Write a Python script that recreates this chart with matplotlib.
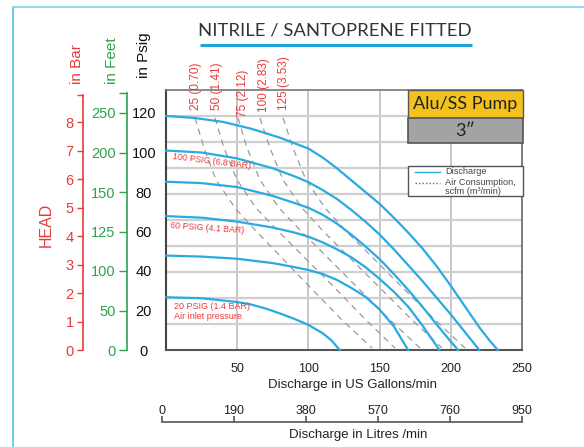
import matplotlib
matplotlib.use('Agg')
import matplotlib.pyplot as plt
from matplotlib.patches import Rectangle

plt.rcParams['font.family'] = ['Liberation Sans', 'DejaVu Sans']

# ---------------- data ----------------
# Discharge curves (US gpm vs head in psig) for each air inlet pressure
gpm_120 = [0, 20, 40, 60, 80, 100, 110, 120, 130, 140, 150, 160, 170, 180, 190, 200, 210, 220, 227, 233]
psi_120 = [118.5, 117.5, 115.5, 112, 107.5, 102, 97.5, 92, 86, 80, 74, 67, 59.5, 51.5, 42.5, 32.5, 22, 11.5, 5, 0]

gpm_100 = [0, 25, 50, 75, 90, 100, 110, 120, 130, 140, 150, 160, 170, 180, 190, 200, 210, 220]
psi_100 = [101, 100, 97, 92, 88, 85, 81, 76.5, 71, 65, 58.5, 51, 43, 35, 26.5, 18, 9, 0]

gpm_80 = [0, 25, 50, 75, 90, 100, 110, 120, 130, 140, 150, 160, 170, 180, 190, 198, 205]
psi_80 = [85.2, 84.5, 82.5, 78, 74.5, 72, 68.5, 64, 58.5, 52.5, 46, 38.5, 30.5, 22, 13, 6, 0]

gpm_60 = [0, 25, 50, 75, 90, 100, 110, 120, 130, 140, 150, 160, 170, 180, 192]
psi_60 = [67.8, 67, 65, 62, 59.5, 57.4, 54.5, 51, 47, 42, 36, 29.5, 22, 12.5, 0]

gpm_40 = [0, 25, 50, 75, 90, 100, 110, 120, 130, 140, 150, 160, 170]
psi_40 = [47.8, 47.3, 46.2, 44, 42, 40.5, 38.5, 35.5, 31.5, 27, 20.5, 12, 0]

gpm_20 = [0, 25, 50, 60, 70, 80, 90, 100, 110, 116, 122]
psi_20 = [26.7, 26.2, 24.3, 23, 21, 18.5, 15.8, 12.7, 8.5, 5, 0]

curves = [(gpm_120, psi_120), (gpm_100, psi_100), (gpm_80, psi_80),
          (gpm_60, psi_60), (gpm_40, psi_40), (gpm_20, psi_20)]

# Air consumption lines (scfm), gpm vs psig
air_psi = [117.5, 102.3, 86.1, 71.9, 59.7, 47.1, 32.9, 15.2, 1.0]
air_gpm_25 = [20.4, 26.7, 35.1, 48.5, 63.9, 80.8, 99.7, 123.6, 144.7]
air_gpm_50 = [34.4, 40.7, 49.9, 63.2, 79.4, 96.9, 116.6, 140.4, 160.8]
air_gpm_75 = [50.6, 56.9, 66.0, 79.4, 95.5, 113.1, 132.7, 157.3, 178.4]
air_gpm_100 = [66.0, 73.0, 82.2, 95.5, 111.0, 128.5, 148.2, 172.8, 193.8]
air_gpm_125 = [82.2, 89.2, 98.3, 111.7, 127.1, 144.7, 164.3, 188.9, 210.0]
air_lines = [air_gpm_25, air_gpm_50, air_gpm_75, air_gpm_100, air_gpm_125]
air_labels = ['25 (0.70)', '50 (1.41)', '75 (2.12)', '100 (2.83)', '125 (3.53)']

gpm_ticks = [50, 100, 150, 200, 250]
psig_ticks = [0, 20, 40, 60, 80, 100, 120]
feet_labels = ['0', '50', '100', '125', '150', '200', '250']
bar_ticks = [0, 1, 2, 3, 4, 5, 6, 7, 8]
litre_ticks = [0, 190, 380, 570, 760, 950]

# ---------------- layout ----------------
W, H = 584, 447
fig = plt.figure(figsize=(W / 100, H / 100), dpi=100)

def rect(l, t, r, b):
    return [l / W, 1 - b / H, (r - l) / W, (b - t) / H]

RED = '#e63b3b'
GREEN = '#2ea34a'
BLUE = '#29abe2'
PSIG_TOP = 260 / 1.975

ax = fig.add_axes(rect(166, 90, 522, 350))
ax.set_xlim(0, 250)
ax.set_ylim(0, PSIG_TOP)
for v in [50, 100, 150, 200]:
    ax.axvline(v, color='#bdbdbd', lw=1.2, zorder=1)
for i in range(1, 10):
    ax.axhline(PSIG_TOP * i / 10, color='#cfcfcf', lw=1.6, zorder=1)

for g, p in curves:
    ax.plot(g, p, color=BLUE, lw=1.6, zorder=3, clip_on=False, solid_joinstyle='round')
for g in air_lines:
    ax.plot(g, air_psi, color='#9a9a9a', lw=0.9, dashes=(5, 4), zorder=2)

ax.spines['left'].set_color('#444')
ax.spines['left'].set_linewidth(1.5)
ax.spines['bottom'].set_color('#555')
ax.spines['bottom'].set_linewidth(1.5)
ax.spines['top'].set_color('#777')
ax.spines['top'].set_linewidth(1.2)
ax.spines['right'].set_color('#666')
ax.spines['right'].set_linewidth(1.2)

ax.set_xticks(gpm_ticks)
ax.set_xticklabels([str(t) for t in gpm_ticks])
ax.tick_params(axis='x', length=0, pad=9, labelsize=9, colors='#222')
ax.set_yticks(psig_ticks)
ax.set_yticklabels([str(t) for t in psig_ticks])
ax.tick_params(axis='y', length=0, pad=16, labelsize=10.5, colors='#111')
for lab in ax.get_yticklabels():
    lab.set_horizontalalignment('center')

# Bar axis
axb = fig.add_axes(rect(82.7, 95, 84, 350))
axb.set_ylim(0, 255 / 28.45)
for s in ['top', 'right', 'bottom']:
    axb.spines[s].set_visible(False)
axb.spines['left'].set_color(RED)
axb.spines['left'].set_linewidth(1.2)
axb.set_xticks([])
axb.set_yticks(bar_ticks + [255 / 28.45])
axb.set_yticklabels([str(t) for t in bar_ticks] + [''])
axb.tick_params(axis='y', colors=RED, length=4.5, width=1, labelsize=10.5, pad=2)
axb.patch.set_alpha(0)

# Feet axis
axf = fig.add_axes(rect(126.7, 93, 128, 350))
axf.set_ylim(0, 257 / 1.975)
for s in ['top', 'right', 'bottom']:
    axf.spines[s].set_visible(False)
axf.spines['left'].set_color(GREEN)
axf.spines['left'].set_linewidth(1.2)
axf.set_xticks([])
axf.set_yticks(psig_ticks + [257 / 1.975])
axf.set_yticklabels(feet_labels + [''])
axf.tick_params(axis='y', colors=GREEN, length=6, width=1, labelsize=10.5, pad=2)
axf.patch.set_alpha(0)

# Litres axis
axl = fig.add_axes(rect(162, 421, 522, 422))
axl.set_xlim(0, 950)
for s in ['top', 'right', 'left']:
    axl.spines[s].set_visible(False)
axl.spines['bottom'].set_color('#555')
axl.spines['bottom'].set_linewidth(1.2)
axl.set_yticks([])
axl.set_xticks(litre_ticks)
axl.set_xticklabels([str(t) for t in litre_ticks])
axl.tick_params(axis='x', bottom=True, top=False, labelbottom=False, labeltop=True,
                direction='in', length=4, width=1.2, pad=3, labelsize=9, colors='#555',
                labelcolor='#222')
axl.patch.set_alpha(0)

# Overlay in pixel coords
ov = fig.add_axes([0, 0, 1, 1])
ov.set_xlim(0, W)
ov.set_ylim(H, 0)
ov.axis('off')
ov.patch.set_alpha(0)

ov.plot([12.5, 12.5], [7, H], color='#55c1ea', lw=1.2)
ov.plot([12.5, W], [7, 7], color='#7fd0ef', lw=1.2)

ov.text(335, 31, 'NITRILE / SANTOPRENE FITTED', ha='center', va='center',
        fontsize=13.3, color='#333', family=['Lato', 'DejaVu Sans'])
ov.plot([200, 472], [45, 45], color='#1fa5de', lw=2.2, solid_capstyle='butt')

ov.add_patch(Rectangle((408, 90), 114.5, 28.3, facecolor='#f4c21c', edgecolor='#555', lw=1, zorder=5))
ov.text(465.5, 104.5, 'Alu/SS Pump', ha='center', va='center', fontsize=13,
        color='#222', family=['Lato', 'DejaVu Sans'], zorder=6)
ov.add_patch(Rectangle((408, 118.3), 114.5, 25, facecolor='#a3a3a3', edgecolor='#555', lw=1.2, zorder=5))
ov.text(465.5, 131, '3\u2033', ha='center', va='center', fontsize=13,
        color='#222', family=['Lato', 'DejaVu Sans'], zorder=6)

ov.add_patch(Rectangle((408, 166), 114.5, 30, facecolor='white', edgecolor='#555', lw=1, zorder=5))
ov.plot([415, 440], [172.3, 172.3], color=BLUE, lw=1, zorder=6)
ov.plot([415, 440], [182.7, 182.7], color='#666', lw=1, ls=(0, (1, 1.5)), zorder=6)
for yy, tt in [(172, 'Discharge'), (182.3, 'Air Consumption,'), (191.3, 'scfm (m\u00b3/min)')]:
    ov.text(445, yy, tt, ha='left', va='center', fontsize=6.6, color='#444', zorder=6)

# Axis titles
ov.text(76.7, 84, 'in Bar', rotation=90, ha='center', va='bottom', fontsize=11, color=RED)
ov.text(111.7, 84, 'in Feet', rotation=90, ha='center', va='bottom', fontsize=11, color=GREEN)
ov.text(144, 78, 'in Psig', rotation=90, ha='center', va='bottom', fontsize=11, color='#111')
ov.text(46.7, 225, 'HEAD', rotation=90, ha='center', va='center', fontsize=11.5, color=RED)

fig.text(353 / W, 1 - 385 / H, 'Discharge in US Gallons/min', ha='center', va='center',
         fontsize=9.5, color='#222')
fig.text(358 / W, 1 - 435 / H, 'Discharge in Litres /min', ha='center', va='center',
         fontsize=9.5, color='#222')

# Air consumption labels
for x, yb, lab in zip([196.5, 216.7, 242.7, 264, 284.3], [110, 110, 117, 112, 110], air_labels):
    ov.text(x, yb, lab, rotation=90, ha='center', va='bottom', fontsize=8.5, color=RED)

# Pressure annotations
ov.text(172.5, 157, '100 PSIG (6.8 BAR)', rotation=-7, rotation_mode='anchor',
        ha='left', va='center', fontsize=6.3, color=RED)
ov.text(170.5, 225.5, '60 PSIG (4.1 BAR)', rotation=-4, rotation_mode='anchor',
        ha='left', va='center', fontsize=6.3, color=RED)
ov.text(174, 306.5, '20 PSIG (1.4 BAR)', ha='left', va='center', fontsize=6.5, color=RED)
ov.text(174, 316.5, 'Air inlet pressure', ha='left', va='center', fontsize=6.5, color=RED)

fig.savefig('out.png', dpi=100)
